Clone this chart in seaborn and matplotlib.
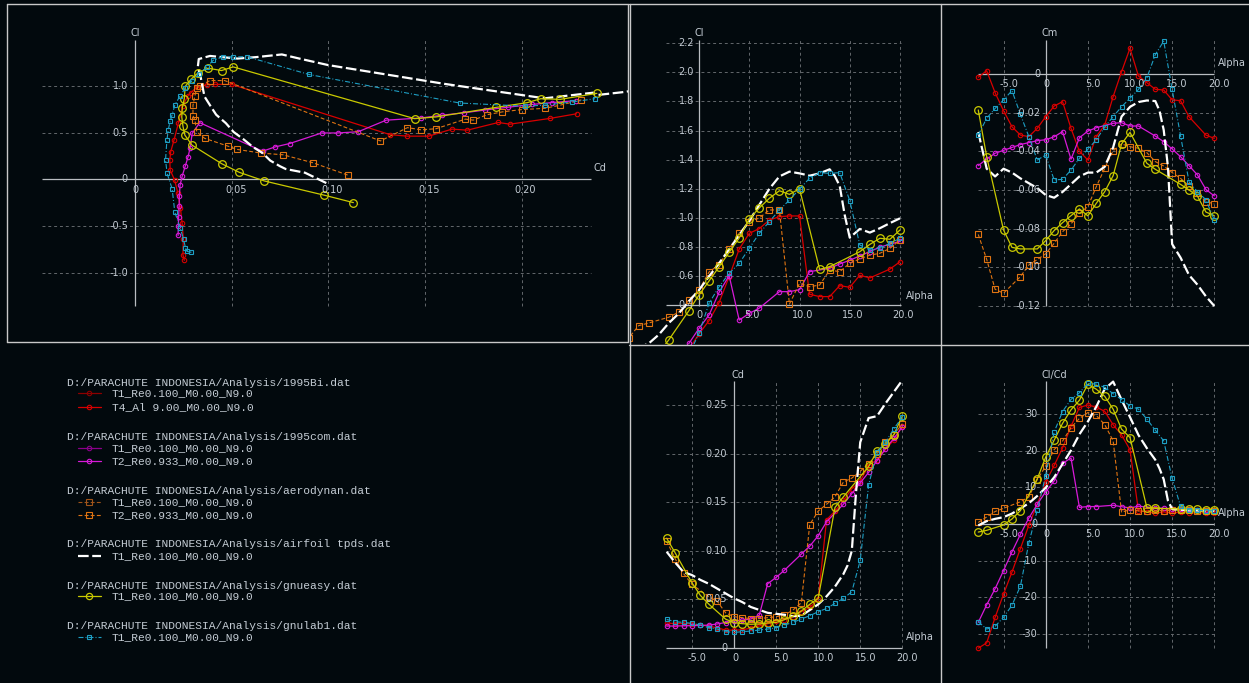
"""
Polaires XFLR5 : Cl(Cd), Cl(alpha), Cm(alpha), Cd(alpha), Cl/Cd(alpha)
"""

import numpy as np
import matplotlib
matplotlib.use("Agg")
import matplotlib.pyplot as plt
from matplotlib.lines import Line2D
import seaborn as sns

W, H = 1249, 683
BG = "#02090d"
FG = "#c4ccd4"
GRID = "#63676b"
AXIS = "#b9bdc1"
FRAME = "#c9c9c9"

# --- 1995Bi.dat  T4_Al 9.00 (rouge)
RED_ALPHA = [-8, -7, -6, -5, -4, -3, -2, -1, 0, 1, 2, 3, 4, 5, 6, 7, 8, 9, 10, 11, 12, 13, 14, 15, 16, 17, 19, 20]
RED_CL = [-0.866, -0.806, -0.638, -0.468, -0.309, -0.149, -0.007, 0.099, 0.205, 0.296, 0.42, 0.598, 0.787, 0.895,
          0.927, 0.986, 1.009, 1.014, 1.014, 0.477, 0.461, 0.461, 0.536, 0.525, 0.607, 0.589, 0.65, 0.70]
RED_CD = [0.0255, 0.0248, 0.025, 0.0244, 0.0235, 0.0222, 0.0205, 0.0182, 0.018, 0.0185, 0.0202, 0.0224, 0.0247,
          0.0275, 0.029, 0.032, 0.0372, 0.0416, 0.050, 0.132, 0.141, 0.152, 0.164, 0.172, 0.188, 0.194, 0.2146, 0.2285]
RED_CM = [-0.0017, 0.0017, -0.0097, -0.019, -0.0273, -0.0316, -0.0324, -0.0281, -0.0221, -0.0166, -0.0143, -0.0281,
          -0.040, -0.0445, -0.0324, -0.0264, -0.0117, 0.0012, 0.0133, -0.001, -0.0045, -0.0079, -0.0083, -0.0134,
          -0.0138, -0.0221, -0.0316, -0.0333]

# --- 1995com.dat  T2_Re0.933 (magenta)
MAG_ALPHA = [-8, -7, -6, -5, -4, -3, -2, -1, 0, 1, 2, 3, 4, 5, 6, 8, 9, 10, 11, 13, 14, 15, 16, 17, 18, 19, 20]
MAG_CL = [-0.60, -0.495, -0.40, -0.29, -0.175, -0.066, 0.04, 0.14, 0.243, 0.335, 0.49, 0.605, 0.30, 0.346, 0.382,
          0.495, 0.495, 0.508, 0.632, 0.655, 0.685, 0.71, 0.74, 0.77, 0.80, 0.82, 0.84]
MAG_CD = [0.0223, 0.0224, 0.0226, 0.0228, 0.023, 0.0233, 0.0245, 0.026, 0.0275, 0.0285, 0.0296, 0.0335, 0.066, 0.0725,
          0.080, 0.0966, 0.1048, 0.1155, 0.130, 0.148, 0.159, 0.170, 0.181, 0.193, 0.2055, 0.216, 0.228]
MAG_CM = [-0.0474, -0.044, -0.041, -0.0395, -0.038, -0.0365, -0.0355, -0.0345, -0.034, -0.0325, -0.0298, -0.0441,
          -0.033, -0.0295, -0.0278, -0.0255, -0.0252, -0.0269, -0.0269, -0.0321, -0.035, -0.0388, -0.0428, -0.0474,
          -0.0522, -0.0597, -0.0631]

# --- aerodynan.dat  T2_Re0.933 (orange)
ORG_ALPHA = [-8, -7, -6, -5, -3, -2, -1, 0, 1, 2, 3, 4, 5, 6, 7, 8, 9, 10, 11, 12, 13, 14, 15, 16, 17, 18, 19, 20]
ORG_CL = [0.046, 0.177, 0.262, 0.28, 0.32, 0.355, 0.438, 0.506, 0.63, 0.68, 0.79, 0.895, 0.975, 1.0, 1.055, 1.055,
          0.41, 0.552, 0.529, 0.54, 0.643, 0.632, 0.689, 0.72, 0.745, 0.758, 0.792, 0.849]
ORG_CD = [0.11, 0.092, 0.0766, 0.0653, 0.0526, 0.048, 0.036, 0.032, 0.031, 0.030, 0.030, 0.031, 0.032, 0.0337, 0.0388,
          0.0464, 0.127, 0.141, 0.148, 0.1557, 0.171, 0.175, 0.182, 0.190, 0.20, 0.212, 0.220, 0.231]
ORG_CM = [-0.083, -0.0959, -0.1114, -0.1134, -0.1048, -0.0988, -0.096, -0.093, -0.0876, -0.0816, -0.0776, -0.072,
          -0.0686, -0.0583, -0.0488, -0.0397, -0.0362, -0.0376, -0.0384, -0.0407, -0.0453, -0.0476, -0.051, -0.054,
          -0.058, -0.0617, -0.066, -0.0672]

# --- airfoil tpds.dat  T1_Re0.100 (blanc)
WHT_ALPHA = [-8, -7, -6, -5, -4, -3, -2, -1, 0, 1, 2, 3, 4, 5, 6, 7, 8, 9, 10, 11, 12, 13, 13.5, 14, 14.5, 15,
             16, 17, 18, 19, 20]
WHT_CL = [-0.04, 0.07, 0.11, 0.14, 0.20, 0.28, 0.346, 0.43, 0.506, 0.60, 0.69, 0.785, 0.883, 0.98, 1.09, 1.20, 1.285,
          1.318, 1.306, 1.29, 1.306, 1.334, 1.29, 1.22, 1.02, 0.865, 0.925, 0.90, 0.93, 0.965, 0.998]
WHT_CD = [0.099, 0.088, 0.078, 0.075, 0.070, 0.066, 0.061, 0.056, 0.051, 0.047, 0.042, 0.039, 0.036, 0.035, 0.034,
          0.0325, 0.033, 0.0388, 0.0447, 0.053, 0.063, 0.076, 0.085, 0.10, 0.16, 0.212, 0.237, 0.239, 0.252, 0.264,
          0.276]
WHT_CM = [-0.030, -0.049, -0.053, -0.049, -0.051, -0.054, -0.0565, -0.059, -0.0626, -0.064, -0.061, -0.057, -0.053,
          -0.051, -0.051, -0.048, -0.038, -0.022, -0.017, -0.0145, -0.0137, -0.014, -0.019, -0.029, -0.048, -0.088,
          -0.095, -0.104, -0.109, -0.115, -0.120]

# --- gnueasy.dat  T1_Re0.100 (jaune)
YEL_ALPHA = [-8, -7, -5, -4, -3, -1, 0, 1, 2, 3, 4, 5, 6, 7, 8, 9, 10, 12, 13, 16, 17, 18, 19, 20]
YEL_CL = [-0.249, -0.170, -0.018, 0.074, 0.165, 0.365, 0.472, 0.568, 0.666, 0.765, 0.863, 0.993, 1.069, 1.135, 1.187,
          1.162, 1.201, 0.648, 0.666, 0.769, 0.819, 0.861, 0.854, 0.918]
YEL_CD = [0.113, 0.098, 0.067, 0.054, 0.045, 0.0295, 0.0258, 0.0248, 0.0242, 0.0245, 0.0255, 0.026, 0.029, 0.0325,
          0.0378, 0.0448, 0.0508, 0.1447, 0.1557, 0.187, 0.203, 0.210, 0.220, 0.239]
YEL_CM = [-0.0186, -0.0428, -0.0807, -0.0897, -0.0905, -0.0905, -0.0862, -0.081, -0.0769, -0.0733, -0.0698, -0.0734,
          -0.0669, -0.0609, -0.0526, -0.0362, -0.0302, -0.0462, -0.0493, -0.0571, -0.060, -0.0631, -0.0714, -0.0733]

# --- gnulab1.dat  T1_Re0.100 (cyan)
CYA_ALPHA = [-8, -7, -6, -5, -4, -3, -2, -1, 0, 1, 2, 3, 4, 5, 6, 7, 8, 9, 10, 11, 12, 13, 14, 15, 16, 17, 18, 19, 20]
CYA_CL = [-0.78, -0.77, -0.73, -0.64, -0.52, -0.35, -0.10, 0.063, 0.209, 0.415, 0.529, 0.62, 0.689, 0.792, 0.895,
          0.975, 1.055, 1.123, 1.199, 1.272, 1.311, 1.306, 1.311, 1.12, 0.815, 0.781, 0.792, 0.826, 0.861]
CYA_CD = [0.0292, 0.0268, 0.0261, 0.0251, 0.0234, 0.0206, 0.0192, 0.0166, 0.0158, 0.0165, 0.0172, 0.0182, 0.0192,
          0.0206, 0.0234, 0.0261, 0.0296, 0.033, 0.0371, 0.0405, 0.0457, 0.0509, 0.0577, 0.09, 0.168, 0.202, 0.212,
          0.226, 0.238]
CYA_CM = [-0.0316, -0.0229, -0.0178, -0.0134, -0.0086, -0.0209, -0.0324, -0.0445, -0.0419, -0.0548, -0.0545, -0.0497,
          -0.0436, -0.039, -0.034, -0.0275, -0.022, -0.017, -0.0125, -0.008, -0.002, 0.010, 0.017, -0.008, -0.032,
          -0.0557, -0.061, -0.065, -0.0755]

# ticks
P1_XTICKS = [0, 0.05, 0.10, 0.15, 0.20]
P1_XLABELS = ["0", "0.05", "0.10", "0.15", "0.20"]
P1_YTICKS = [1.0, 0.5, 0, -0.5, -1.0]
P1_YLABELS = ["1.0", "0.5", "0", "-0.5", "-1.0"]
P2_YTICKS = [0.4, 0.6, 0.8, 1.0, 1.2, 1.4, 1.6, 1.8, 2.0, 2.2]
P3_YTICKS = [0, -0.02, -0.04, -0.06, -0.08, -0.10, -0.12]
P3_YLABELS = ["0", "-0.02", "-0.04", "-0.06", "-0.08", "-0.10", "-0.12"]
P4_YTICKS = [0, 0.05, 0.10, 0.15, 0.20, 0.25]
P4_YLABELS = ["0", "0.05", "0.10", "0.15", "0.20", "0.25"]
P5_YTICKS = [30, 20, 10, 0, -10, -20, -30]
A_TICKS = [-5, 0, 5, 10, 15, 20]
A_LABELS = ["-5.0", "0", "5.0", "10.0", "15.0", "20.0"]

RED, DRED = "#d80000", "#8c0000"
MAG, DMAG = "#d81ad8", "#8a008a"
ORG, DORG = "#e07412", "#a0541a"
WHT, YEL, CYA = "#ffffff", "#caca00", "#1e9fc4"

STYLE_RED = dict(color=RED, ls="-", lw=0.9, marker="o", ms=3.2, mew=0.8)
STYLE_DRED = dict(color=DRED, ls="-", lw=0.9, marker="o", ms=3.2, mew=0.8)
STYLE_MAG = dict(color=MAG, ls="-", lw=0.9, marker="o", ms=3.2, mew=0.8)
STYLE_DMAG = dict(color=DMAG, ls="-", lw=0.9, marker="o", ms=3.2, mew=0.8)
STYLE_ORG = dict(color=ORG, ls=(0, (3.5, 2)), lw=0.8, marker="s", ms=5.0, mew=0.8)
STYLE_DORG = dict(color=DORG, ls=(0, (3.5, 2)), lw=0.8, marker="s", ms=5.0, mew=0.8)
STYLE_WHT = dict(color=WHT, ls=(0, (4.8, 1.6)), lw=1.6, marker=None, ms=0, mew=0)
STYLE_YEL = dict(color=YEL, ls="-", lw=0.9, marker="o", ms=5.5, mew=0.9)
STYLE_CYA = dict(color=CYA, ls=(0, (4.5, 1.8, 0.9, 1.8)), lw=0.8, marker="s", ms=2.4, mew=0.8)

POLARS = [
    (RED_ALPHA, RED_CL, RED_CD, RED_CM, STYLE_RED),
    (MAG_ALPHA, MAG_CL, MAG_CD, MAG_CM, STYLE_MAG),
    (ORG_ALPHA, ORG_CL, ORG_CD, ORG_CM, STYLE_ORG),
    (WHT_ALPHA, WHT_CL, WHT_CD, WHT_CM, STYLE_WHT),
    (YEL_ALPHA, YEL_CL, YEL_CD, YEL_CM, STYLE_YEL),
    (CYA_ALPHA, CYA_CL, CYA_CD, CYA_CM, STYLE_CYA),
]

LEGEND = [
    ("D:/PARACHUTE INDONESIA/Analysis/1995Bi.dat", 382.7,
     [("T1_Re0.100_M0.00_N9.0", 393.3, STYLE_DRED), ("T4_Al 9.00_M0.00_N9.0", 406.7, STYLE_RED)]),
    ("D:/PARACHUTE INDONESIA/Analysis/1995com.dat", 436.7,
     [("T1_Re0.100_M0.00_N9.0", 447.7, STYLE_DMAG), ("T2_Re0.933_M0.00_N9.0", 461.0, STYLE_MAG)]),
    ("D:/PARACHUTE INDONESIA/Analysis/aerodynan.dat", 490.7,
     [("T1_Re0.100_M0.00_N9.0", 501.7, STYLE_DORG), ("T2_Re0.933_M0.00_N9.0", 515.0, STYLE_ORG)]),
    ("D:/PARACHUTE INDONESIA/Analysis/airfoil tpds.dat", 544.3,
     [("T1_Re0.100_M0.00_N9.0", 555.7, STYLE_WHT)]),
    ("D:/PARACHUTE INDONESIA/Analysis/gnueasy.dat", 585.7,
     [("T1_Re0.100_M0.00_N9.0", 596.3, STYLE_YEL)]),
    ("D:/PARACHUTE INDONESIA/Analysis/gnulab1.dat", 625.7,
     [("T1_Re0.100_M0.00_N9.0", 636.7, STYLE_CYA)]),
]

sns.set_theme(style="dark", rc={"axes.facecolor": BG, "figure.facecolor": BG})
plt.rcParams["font.family"] = ["DejaVu Sans"]

fig = plt.figure(figsize=(W / 100, H / 100), dpi=100)
fig.patch.set_facecolor(BG)


def panel(box, xo, xs, yo, ys):
    """axes couvrant box (pixels), x = (px-xo)/xs, y = (yo-py)/ys"""
    x0, y0, x1, y1 = box
    ax = fig.add_axes([x0 / W, 1 - y1 / H, (x1 - x0) / W, (y1 - y0) / H])
    ax.set_axis_off()
    ax.set_xlim((x0 - xo) / xs, (x1 - xo) / xs)
    ax.set_ylim((yo - y1) / ys, (yo - y0) / ys)
    fx = lambda p: (p - xo) / xs
    fy = lambda p: (yo - p) / ys
    return ax, fx, fy


def grid(ax, fx, fy, hspan, vspan, hvals, vvals, axis_y, axis_x=0.0):
    xa, xb = fx(hspan[0]), fx(hspan[1])
    ya, yb = fy(vspan[1]), fy(vspan[0])
    ax.hlines(hvals, xa, xb, colors=GRID, linestyles=(0, (3, 3)), lw=0.7)
    ax.vlines(vvals, ya, yb, colors=GRID, linestyles=(0, (3, 3)), lw=0.7)
    ax.hlines([axis_y], xa, xb, colors=AXIS, lw=0.9)
    ax.vlines([axis_x], ya, yb, colors=AXIS, lw=0.9)


def xlabels(ax, vals, labels, at, dy, dx=5, dx0=1):
    for v, s in zip(vals, labels):
        ax.annotate(s, xy=(v, at), xytext=(dx0 if s == "0" else dx, dy), textcoords="offset pixels",
                    ha="center", va="center", color=FG, fontsize=7, annotation_clip=False)


def ylabels(ax, vals, labels, dx, at=0.0):
    for v, s in zip(vals, labels):
        ax.annotate(s, xy=(at, v), xytext=(dx, 0), textcoords="offset pixels",
                    ha="right", va="center", color=FG, fontsize=7, annotation_clip=False)


def ptext(px, py, s, ha="left"):
    fig.text(px / W, 1 - py / H, s, ha=ha, va="center", color=FG, fontsize=7)


def curve(ax, x, y, st):
    sns.lineplot(x=np.asarray(x, float), y=np.asarray(y, float), ax=ax, sort=False, estimator=None,
                 color=st["color"], linestyle=st["ls"], linewidth=st["lw"], marker=st["marker"],
                 markersize=st["ms"], markerfacecolor="none", markeredgecolor=st["color"],
                 markeredgewidth=st["mew"], legend=False)


# 1. Cl = f(Cd)
ax1, f1x, f1y = panel((8, 5, 628, 342), 135.0, 1932.5, 179.3, 93.6)
grid(ax1, f1x, f1y, (42.2, 591.4), (40, 306), [1.0, 0.5, -0.5, -1.0], [0.05, 0.10, 0.15, 0.20], 0.0)
xlabels(ax1, P1_XTICKS, P1_XLABELS, 0.0, -10.7, dx=4, dx0=0)
ylabels(ax1, P1_YTICKS, P1_YLABELS, -7)
ptext(135, 33, "Cl", ha="center")
ptext(594, 168, "Cd")

# 2. Cl = f(alpha)
ax2, f2x, f2y = panel((630, 5, 940, 344), 699.0, 10.05, 363.83, 145.83)
grid(ax2, f2x, f2y, (665.7, 901), (40, 305.5), P2_YTICKS[1:], [5, 10, 15, 20], 0.4)
xlabels(ax2, A_TICKS[1:], A_LABELS[1:], 0.4, -9.5, dx=3, dx0=0)
ylabels(ax2, P2_YTICKS, [f"{v:.1f}" for v in P2_YTICKS], -5)
ptext(699, 33, "Cl", ha="center")
ptext(906, 296, "Alpha")

# 3. Cm = f(alpha)
ax3, f3x, f3y = panel((942, 5, 1249, 344), 1045.7, 8.43, 74.0, 1933.0)
grid(ax3, f3x, f3y, (977.7, 1214.3), (40, 306), P3_YTICKS[1:], [-5, 5, 10, 15, 20], 0.0)
xlabels(ax3, A_TICKS, A_LABELS, 0.0, -10)
ylabels(ax3, P3_YTICKS, P3_YLABELS, -5)
ptext(1042, 33, "Cm")
ptext(1218, 63, "Alpha")

# 4. Cd = f(alpha)
ax4, f4x, f4y = panel((630, 346, 940, 683), 734.0, 8.415, 647.7, 969.0)
grid(ax4, f4x, f4y, (665.7, 902.3), (381, 647.7), P4_YTICKS[1:], [-5, 5, 10, 15, 20], 0.0)
xlabels(ax4, A_TICKS, A_LABELS, 0.0, -10.6)
ylabels(ax4, P4_YTICKS, P4_YLABELS, -7)
ptext(731, 375, "Cd")
ptext(906, 637, "Alpha")

# 5. Cl/Cd = f(alpha)
ax5, f5x, f5y = panel((942, 346, 1249, 683), 1045.7, 8.43, 524.0, 3.657)
grid(ax5, f5x, f5y, (977.7, 1214.3), (381, 648.3), [30, 20, 10, -10, -20, -30], [-5, 5, 10, 15, 20], 0.0)
xlabels(ax5, A_TICKS, A_LABELS, 0.0, -10)
ylabels(ax5, P5_YTICKS, [str(v) for v in P5_YTICKS], -8)
ptext(1042, 375, "Cl/Cd")
ptext(1218, 513, "Alpha")

for alpha, cl, cd, cm, st in POLARS:
    cl_a, cd_a = np.asarray(cl, float), np.asarray(cd, float)
    curve(ax1, cd_a, cl_a, st)
    curve(ax2, alpha, cl_a, st)
    curve(ax3, alpha, cm, st)
    curve(ax4, alpha, cd_a, st)
    curve(ax5, alpha, cl_a / cd_a, st)

# légende
lax = fig.add_axes([0, 0, 629 / W, (H - 345) / H])
lax.set_axis_off()
lax.set_xlim(0, 629)
lax.set_ylim(H, 345)
mono = ["Liberation Mono", "DejaVu Sans Mono"]
for title, ty, entries in LEGEND:
    lax.text(66.7, ty, title, family=mono, fontsize=8.1, color=FG, va="center")
    for name, ey, st in entries:
        lax.plot([77.7, 101.0], [ey, ey], color=st["color"], ls=st["ls"], lw=st["lw"])
        if st["marker"]:
            lax.plot([89.3], [ey], color=st["color"], marker=st["marker"], ms=min(st["ms"], 4.5),
                     mfc="none", mec=st["color"], mew=st["mew"])
        lax.text(111.7, ey, name, family=mono, fontsize=8.1, color=FG, va="center")

# cadres
for (xa, ya, xb, yb) in [(7, 4, 628, 4), (7, 342, 628, 342), (7, 4, 7, 342), (628, 4, 628, 342),
                         (629.5, 4, 629.5, 683), (941, 4, 941, 683), (629, 4, 1249, 4), (629, 344.5, 1249, 344.5)]:
    fig.add_artist(Line2D([xa / W, xb / W], [1 - ya / H, 1 - yb / H], color=FRAME, lw=1.0))

fig.savefig("out.png", dpi=100, facecolor=BG)
plt.close(fig)
